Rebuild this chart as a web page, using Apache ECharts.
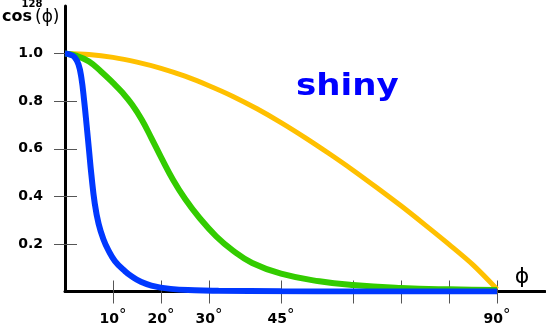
<!DOCTYPE html>
<html>
<head>
<meta charset="utf-8">
<script src="https://cdn.jsdelivr.net/npm/echarts@6/dist/echarts.min.js"></script>
<style>
  html, body { margin: 0; padding: 0; background: #ffffff; }
  #chart { width: 546px; height: 326px; }
</style>
</head>
<body>
<div id="chart"></div>
<script>
// Angle in degrees vs. intensity for three exponents of cos(phi)
const curveCos1 = [[0,1.0],[5,0.996],[10,0.984],[15,0.964],[20,0.938],[25,0.905],[30,0.865],[35,0.82],[40,0.768],[45,0.71],[50,0.647],[55,0.58],[60,0.51],[65,0.436],[70,0.36],[75,0.28],[80,0.198],[85,0.112],[90,0.01]];
const curveCos8 = [[0,1.0],[2.5,0.99],[5,0.967],[7.5,0.925],[10,0.877],[12,0.835],[14,0.785],[16,0.722],[18,0.645],[20,0.565],[22.5,0.47],[25,0.39],[28,0.31],[31.5,0.232],[35,0.172],[39,0.12],[45,0.075],[53,0.043],[60,0.027],[70,0.015],[80,0.009],[90,0.006]];
const curveCos128 = [[0,1.0],[1,0.996],[2,0.985],[2.8,0.955],[3.4,0.9],[4,0.8],[4.5,0.7],[5,0.595],[5.5,0.49],[6.2,0.37],[7,0.285],[8,0.22],[9,0.175],[10.4,0.128],[12.5,0.085],[14.2,0.059],[15.6,0.043],[18,0.025],[22,0.011],[27,0.005],[32,0.003],[45,0.001],[60,0],[90,0]];

const xTickValues = [10, 20, 30, 45, 60, 70, 80, 90];
const xLabelValues = [10, 20, 30, 45, 90];
const yTickValues = [0.2, 0.4, 0.6, 0.8, 1.0];

const tickStyle = { color: '#555555', width: 1 };

const chart = echarts.init(document.getElementById('chart'), null, { renderer: 'canvas' });

function xAxisBase(inside, withLabels) {
  return {
    type: 'value', min: 0, max: 100, position: 'bottom',
    splitLine: { show: false },
    axisLine: { show: withLabels, lineStyle: { color: '#000000', width: 3 } },
    axisTick: { show: true, inside: inside, length: inside ? 11 : 12, customValues: xTickValues, lineStyle: tickStyle },
    axisLabel: withLabels ? {
      show: true, customValues: xLabelValues, margin: 17,
      formatter: v => '{n|' + v + '}{d|°}',
      rich: {
        n: { fontFamily: 'DejaVu Sans', fontWeight: 'bold', fontSize: 14, color: '#000000' },
        d: { fontFamily: 'DejaVu Sans', fontWeight: 'normal', fontSize: 15, color: '#000000', verticalAlign: 'top', padding: [0, 0, 6, 0] }
      }
    } : { show: false }
  };
}

function yAxisBase(inside, withLabels) {
  return {
    type: 'value', min: 0, max: 1.2, position: 'left',
    splitLine: { show: false },
    axisLine: { show: withLabels, lineStyle: { color: '#000000', width: 3 } },
    axisTick: { show: true, inside: inside, length: inside ? 12 : 11, customValues: yTickValues, lineStyle: tickStyle },
    axisLabel: withLabels ? {
      show: true, customValues: yTickValues, margin: 22,
      formatter: v => v.toFixed(1),
      fontFamily: 'DejaVu Sans', fontWeight: 'bold', fontSize: 14, color: '#000000'
    } : { show: false }
  };
}

function curve(name, data, color, width, smooth) {
  return {
    name: name, type: 'line', data: data,
    xAxisIndex: 0, yAxisIndex: 0,
    smooth: smooth, showSymbol: false, symbol: 'none',
    lineStyle: { color: color, width: width },
    animation: false
  };
}

chart.setOption({
  animation: false,
  backgroundColor: '#ffffff',
  grid: { left: 65, top: 6, width: 480, height: 288, containLabel: false },
  xAxis: [xAxisBase(false, true), xAxisBase(true, false)],
  yAxis: [yAxisBase(false, true), yAxisBase(true, false)],
  series: [
    curve('cos', curveCos1, '#ffc000', 5, 0.3),
    curve('cos8', curveCos8, '#33cc00', 6, 0.45),
    curve('cos128', curveCos128, '#0038ff', 6, 0.45)
  ],
  graphic: [
    { type: 'text', x: 2, y: 17, style: { text: 'cos', font: 'bold 16px "DejaVu Sans"', fill: '#000', textVerticalAlign: 'middle' } },
    { type: 'text', x: 32, y: 4, style: { text: '128', font: 'bold 10px "DejaVu Sans"', fill: '#000', textAlign: 'center', textVerticalAlign: 'middle' } },
    { type: 'text', x: 35, y: 18, style: { text: '(ϕ)', font: '17px "DejaVu Sans"', fill: '#000', textVerticalAlign: 'middle' } },
    { type: 'text', x: 522, y: 277, style: { text: 'ϕ', font: '22px "DejaVu Sans"', fill: '#000', textAlign: 'center', textVerticalAlign: 'middle' } },
    { type: 'text', x: 296, y: 87, scaleX: 1.1, style: { x: 0, y: 0, text: 'shiny', font: 'bold 31px "DejaVu Sans"', fill: '#0000ff', textVerticalAlign: 'middle' } }
  ]
});
</script>
</body>
</html>
